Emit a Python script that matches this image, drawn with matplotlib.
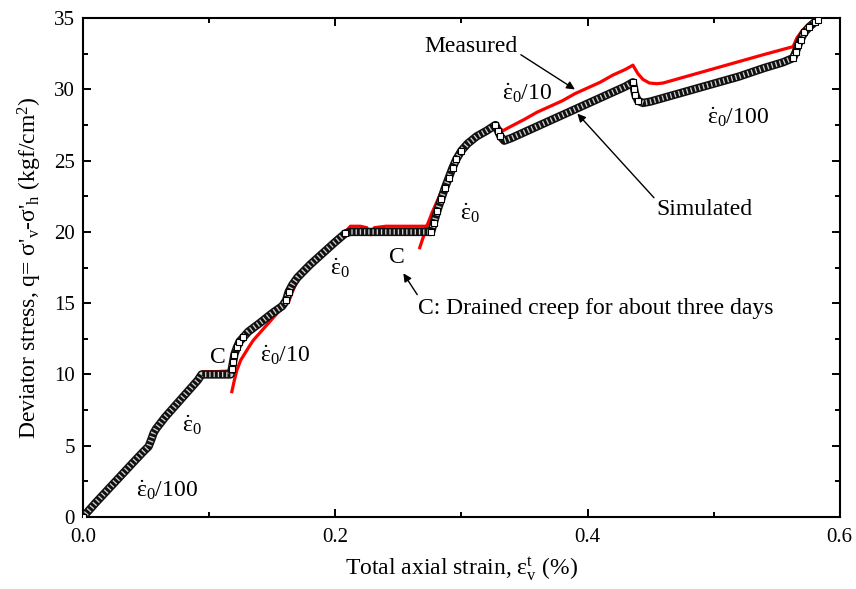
import numpy as np
import matplotlib
matplotlib.use("Agg")
import matplotlib.pyplot as plt
from matplotlib.ticker import MultipleLocator, FormatStrFormatter

plt.rcParams['font.family'] = ['Liberation Serif', 'DejaVu Serif']
plt.rcParams['mathtext.fontset'] = 'custom'
plt.rcParams['mathtext.rm'] = 'Liberation Serif'
plt.rcParams['mathtext.it'] = 'Liberation Serif:italic'

# simulated curve (white squares)
sim_x = [0.000, 0.010, 0.020, 0.030, 0.040, 0.048, 0.052, 0.054, 0.056, 0.058,
         0.065, 0.075, 0.085, 0.091, 0.094, 0.100, 0.106, 0.112, 0.117, 0.118,
         0.119, 0.120, 0.122, 0.124, 0.127, 0.131, 0.140, 0.150, 0.158, 0.161,
         0.163, 0.166, 0.170, 0.180, 0.190, 0.200, 0.208, 0.212, 0.220, 0.230,
         0.240, 0.250, 0.260, 0.270, 0.276, 0.278, 0.281, 0.284, 0.287, 0.290,
         0.293, 0.296, 0.300, 0.305, 0.312, 0.320, 0.327, 0.329, 0.331, 0.334,
         0.340, 0.350, 0.360, 0.370, 0.380, 0.390, 0.400, 0.410, 0.420, 0.430,
         0.436, 0.437, 0.438, 0.440, 0.444, 0.450, 0.460, 0.480, 0.500, 0.520,
         0.540, 0.555, 0.563, 0.565, 0.567, 0.569, 0.572, 0.576, 0.580, 0.583]
sim_y = [0.0, 1.0, 1.95, 2.9, 3.85, 4.6, 4.95, 5.4, 5.9, 6.2,
         7.0, 8.0, 9.0, 9.6, 10.0, 10.0, 10.0, 10.0, 10.0, 10.4,
         10.9, 11.4, 11.9, 12.3, 12.6, 13.0, 13.6, 14.3, 14.8, 15.2,
         15.8, 16.3, 16.8, 17.7, 18.5, 19.3, 19.9, 20.0, 20.0, 20.0,
         20.0, 20.0, 20.0, 20.0, 20.0, 20.6, 21.5, 22.3, 23.1, 23.8,
         24.5, 25.1, 25.7, 26.2, 26.7, 27.1, 27.5, 27.1, 26.7, 26.4,
         26.6, 27.0, 27.4, 27.8, 28.2, 28.6, 29.0, 29.4, 29.8, 30.2,
         30.5, 30.0, 29.6, 29.2, 29.05, 29.15, 29.4, 29.9, 30.4, 30.9,
         31.5, 31.9, 32.2, 32.6, 33.1, 33.5, 34.0, 34.4, 34.7, 34.9]

# measured curve (red), nan = break between segments
meas_x = [0.000, 0.010, 0.020, 0.030, 0.040, 0.050, 0.053, 0.057, 0.065, 0.075,
          0.085, 0.092, 0.095, 0.105, 0.118, np.nan,
          0.118, 0.120, 0.122, 0.125, 0.132, 0.135, 0.145, 0.155, 0.163, 0.166,
          0.170, 0.180, 0.190, 0.200, 0.209, 0.212, 0.220, 0.225, 0.228, 0.231,
          0.240, 0.250, 0.260, 0.271, np.nan,
          0.267, 0.270, 0.273, 0.277, 0.282, 0.287, 0.292, 0.297, 0.302, 0.310,
          0.318, 0.327, 0.330, 0.333, 0.337, 0.350, 0.360, 0.370, 0.380, 0.390,
          0.400, 0.410, 0.420, 0.430, 0.436, 0.440, 0.444, 0.449, 0.455, 0.460,
          0.480, 0.500, 0.520, 0.540, 0.563, 0.566, 0.570, 0.575, 0.580]
meas_y = [0.0, 0.95, 1.9, 2.85, 3.8, 4.75, 5.1, 5.9, 6.8, 7.8,
          9.0, 10.0, 10.2, 10.2, 10.25, np.nan,
          8.8, 9.6, 10.3, 11.0, 12.0, 12.4, 13.4, 14.4, 15.1, 15.8,
          16.6, 17.6, 18.5, 19.3, 20.1, 20.4, 20.4, 20.3, 19.8, 20.3,
          20.4, 20.4, 20.4, 20.4, np.nan,
          18.9, 19.7, 20.5, 21.4, 22.4, 23.4, 24.4, 25.3, 26.0, 26.7,
          27.1, 27.5, 27.3, 27.1, 27.3, 27.9, 28.4, 28.8, 29.2, 29.7,
          30.1, 30.5, 31.0, 31.4, 31.7, 31.1, 30.7, 30.45, 30.4, 30.45,
          30.95, 31.45, 31.95, 32.45, 33.0, 33.6, 34.1, 34.5, 34.8]

# vertices where the squares show up one by one (steep parts)
steep = [0, 19, 20, 21, 22, 23, 24, 29, 30, 36, 44, 45, 46, 47, 48, 49, 50, 51, 52,
         56, 57, 58, 70, 71, 72, 73, 82, 83, 84, 85, 86, 87, 88, 89]

fig = plt.figure(figsize=(8.56, 5.89), dpi=100)
ax = fig.add_axes([0.097, 0.1222, 0.884, 0.847])

ax.plot(meas_x, meas_y, '-', color='#ff0000', lw=2.3, zorder=2)

# dense overlapping squares -> dark band with thin light slivers
ax.plot(sim_x, sim_y, '-', color='#111111', lw=6.0, solid_capstyle='butt',
        solid_joinstyle='round', zorder=3)
band, = ax.plot(sim_x, sim_y, '-', color='#cfcfcf', lw=3.8, zorder=4)
band.set_dashes((0.25, 0.55))
ax.plot(sim_x, sim_y, 's', ms=5, mfc='white', mec='k', mew=0.8, zorder=5,
        markevery=steep)

ax.set_xlim(0, 0.6)
ax.set_ylim(0, 35)
ax.xaxis.set_major_locator(MultipleLocator(0.2))
ax.xaxis.set_minor_locator(MultipleLocator(0.1))
ax.xaxis.set_major_formatter(FormatStrFormatter('%.1f'))
ax.yaxis.set_major_locator(MultipleLocator(5))
ax.yaxis.set_minor_locator(MultipleLocator(2.5))
ax.tick_params(which='both', direction='in', top=True, right=True, width=1.4, labelsize=15)
ax.tick_params(which='major', length=5.5)
ax.tick_params(which='minor', length=3.5)
ax.tick_params(axis='x', which='major', pad=8)
ax.tick_params(axis='y', which='major', pad=6)
for s in ax.spines.values():
    s.set_linewidth(1.5)

ax.set_xlabel(r'Total axial strain, ε$_\mathrm{v}^\mathrm{t}$ (%)', fontsize=17, labelpad=6)
ax.set_ylabel(r"Deviator stress, q= σ'$_\mathrm{v}$-σ'$_\mathrm{h}$ (kgf/cm$^\mathrm{2}$)",
              fontsize=17, labelpad=7)

fs = 17
ed = r'$\dot{\mathrm{ε}}_\mathrm{0}$'
ax.text(0.042, 1.9, ed + '/100', fontsize=fs, va='center')
ax.text(0.0785, 6.45, ed, fontsize=fs, va='center')
ax.text(0.140, 11.36, ed + '/10', fontsize=fs, va='center')
ax.text(0.196, 17.46, ed, fontsize=fs, va='center')
ax.text(0.299, 21.3, ed, fontsize=fs, va='center')
ax.text(0.332, 29.7, ed + '/10', fontsize=fs, va='center')
ax.text(0.495, 28.05, ed + '/100', fontsize=fs, va='center')

ax.text(0.107, 11.2, 'C', fontsize=fs, ha='center', va='center')
ax.text(0.249, 18.2, 'C', fontsize=fs, ha='center', va='center')
ax.text(0.2655, 14.6, 'C: Drained creep for about three days', fontsize=fs, va='center')

arw = dict(arrowstyle='-|>', color='k', lw=1.0, mutation_scale=12, shrinkA=0, shrinkB=0)
ax.annotate('', xy=(0.254, 17.1), xytext=(0.265, 15.6), arrowprops=arw)
ax.annotate('Measured', xy=(0.390, 30.0), xytext=(0.308, 33.0), fontsize=fs,
            ha='center', va='center',
            arrowprops=dict(arw, relpos=(1.0, 0.2)))
ax.annotate('Simulated', xy=(0.392, 28.3), xytext=(0.493, 21.6), fontsize=fs,
            ha='center', va='center',
            arrowprops=dict(arw, relpos=(0.0, 0.9)))

fig.savefig('out.png', dpi=100)
